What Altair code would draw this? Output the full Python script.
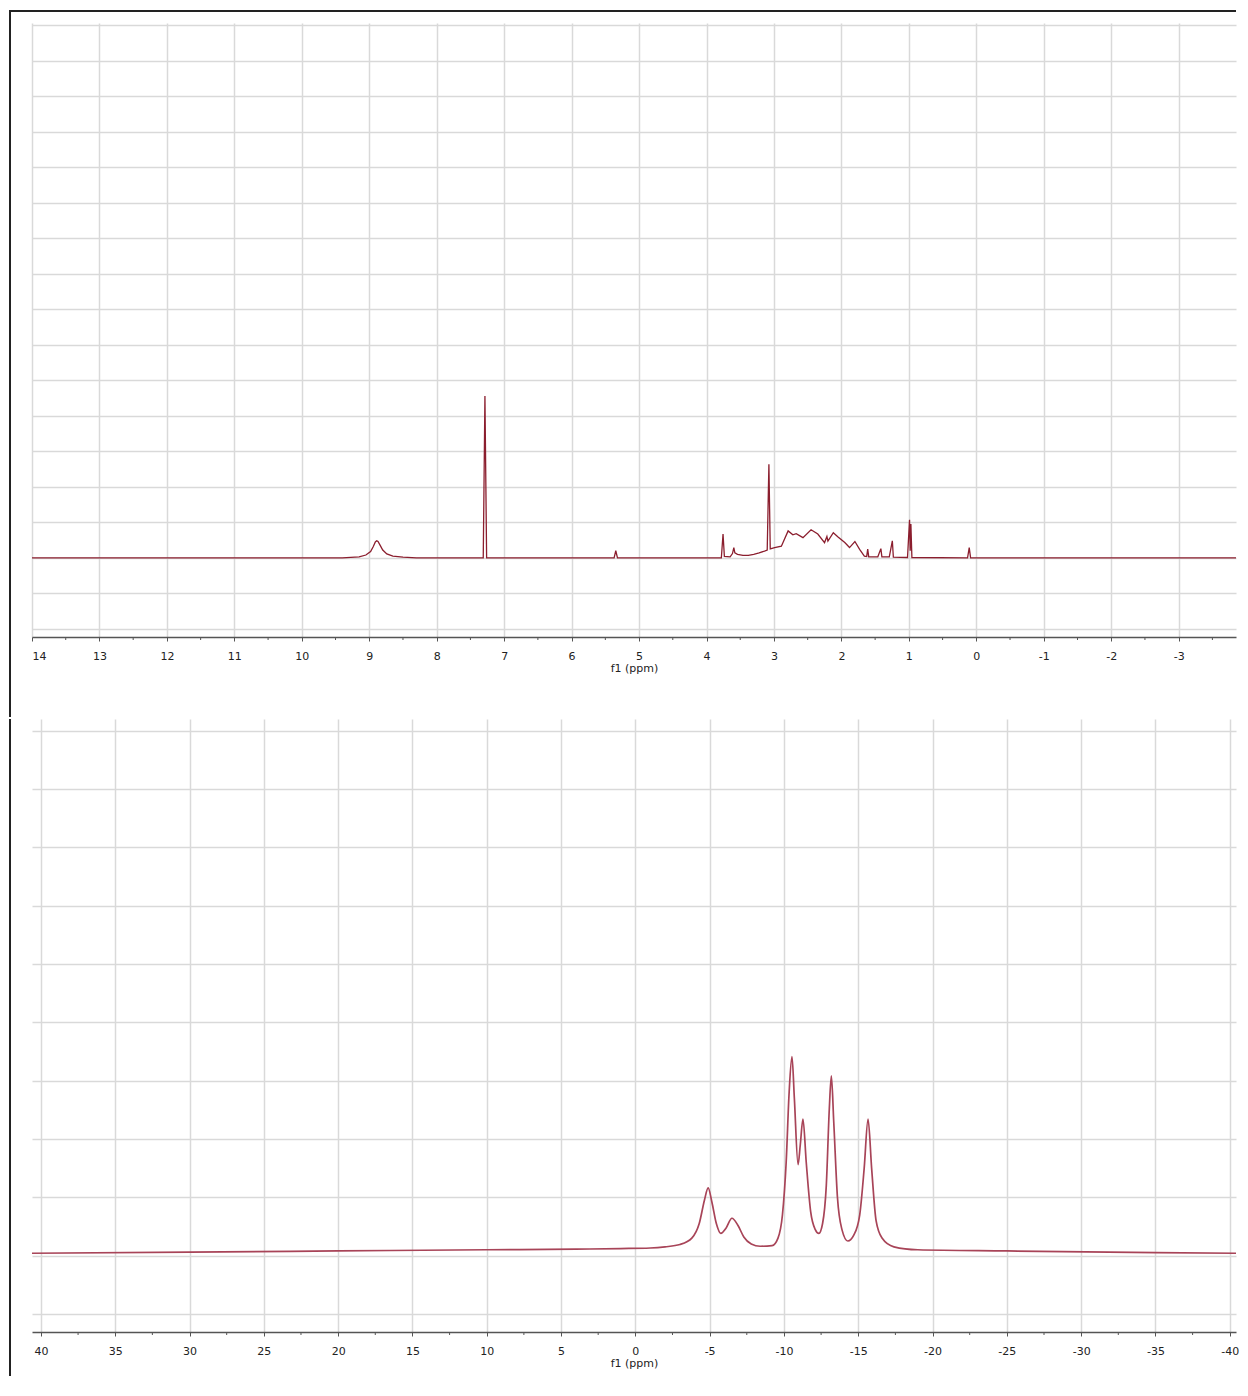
import altair as alt
import pandas as pd

# ---- 1H spectrum (top panel): ppm and intensity (grid units above baseline)
h_ppm = [14.0, 9.4, 9.15, 9.05, 8.98, 8.94, 8.91, 8.89, 8.87, 8.84, 8.80, 8.74, 8.65, 8.5, 8.3,
         7.31, 7.285, 7.26,
         5.37, 5.345, 5.32,
         3.78, 3.755, 3.735, 3.65, 3.615, 3.595, 3.58, 3.54, 3.46, 3.38, 3.30, 3.22, 3.14, 3.10,
         3.075, 3.055, 2.99, 2.89, 2.79, 2.72, 2.67, 2.57, 2.45, 2.35, 2.25, 2.215, 2.20, 2.12,
         2.05, 1.95, 1.88, 1.80, 1.73, 1.66, 1.625, 1.61, 1.595, 1.46, 1.415, 1.40, 1.29, 1.245,
         1.23, 1.02, 0.99, 0.98, 0.97, 0.955, 0.13, 0.105, 0.085, -3.85]
h_int = [0.0, 0.0, 0.03, 0.08, 0.18, 0.32, 0.45, 0.48, 0.46, 0.36, 0.22, 0.11, 0.05, 0.02, 0.0,
         0.0, 4.56, 0.0,
         0.0, 0.2, 0.0,
         0.0, 0.67, 0.04, 0.03, 0.12, 0.29, 0.14, 0.10, 0.07, 0.07, 0.10, 0.14, 0.19, 0.22,
         2.64, 0.25, 0.29, 0.33, 0.76, 0.65, 0.68, 0.57, 0.79, 0.67, 0.43, 0.60, 0.47, 0.71,
         0.59, 0.43, 0.29, 0.46, 0.24, 0.05, 0.04, 0.25, 0.03, 0.03, 0.26, 0.03, 0.03, 0.48,
         0.02, 0.01, 1.07, 0.2, 0.95, 0.01, 0.0, 0.29, 0.0, 0.0]

# ---- second spectrum (bottom panel)
p_ppm = [40.6, 30, 20, 10, 4, 1, -1, -2, -3, -3.8, -4.3, -4.65, -4.9, -5.15, -5.45, -5.75,
         -6.1, -6.5, -6.9, -7.3, -7.8, -8.4, -9.2, -9.6, -9.9, -10.15, -10.35, -10.54, -10.7,
         -10.95, -11.1, -11.28, -11.5, -11.8, -12.1, -12.35, -12.6, -12.85, -13.05, -13.19,
         -13.35, -13.6, -13.9, -14.3, -14.7, -15.1, -15.4, -15.66, -15.9, -16.2, -16.6, -17.4,
         -19, -25, -35, -40.42]
p_int = [0.04, 0.06, 0.08, 0.10, 0.11, 0.12, 0.13, 0.15, 0.19, 0.30, 0.55, 0.95, 1.16, 0.92,
         0.55, 0.38, 0.47, 0.64, 0.52, 0.32, 0.20, 0.16, 0.17, 0.30, 0.70, 1.6, 2.8, 3.41, 2.7,
         1.56, 1.9, 2.34, 1.6, 0.75, 0.45, 0.38, 0.55, 1.2, 2.5, 3.08, 2.3, 1.0, 0.45, 0.25,
         0.35, 0.70, 1.5, 2.34, 1.5, 0.6, 0.3, 0.15, 0.10, 0.08, 0.05, 0.04]

top_ticks = list(range(14, -4, -1))
top_minor = [v + 0.5 for v in range(-4, 14)]
top_grid_y = list(range(-2, 16))
bot_ticks = list(range(40, -45, -5))
bot_minor = [v + 2.5 for v in range(-40, 40, 5)]
bot_grid_y = list(range(-1, 10))

W1, H1 = 1204, 614
W2, H2 = 1204, 613
LINE1 = "#8b1e2e"
LINE2 = "#a84458"
BORDER = "#222222"
TICK = "#555555"

one = pd.DataFrame({"k": [0]})


def panel(ppm, inten, xdom, ydom, ticks, minor, grid_y, W, H, color, interp, width_line,
          border_top, border_bottom, draw_top, flush):
    xs = alt.Scale(domain=xdom, nice=False, zero=False)
    ys = alt.Scale(domain=ydom, nice=False, zero=False)
    xaxis = alt.Axis(values=ticks, title="f1 (ppm)", grid=True, labelFlush=flush,
                     labelExpr="'' + datum.value", tickSize=4, labelPadding=9,
                     titlePadding=1)
    yaxis = alt.Axis(values=grid_y, labels=False, ticks=False, domain=False,
                     title="", grid=True)
    df = pd.DataFrame({"ppm": ppm, "i": inten})
    line = alt.Chart(df).mark_line(color=color, strokeWidth=width_line, interpolate=interp).encode(
        x=alt.X("ppm:Q", scale=xs, axis=xaxis),
        y=alt.Y("i:Q", scale=ys, axis=yaxis),
    )
    mdf = pd.DataFrame({"ppm": minor})
    minor_marks = alt.Chart(mdf).mark_rule(color=TICK, strokeWidth=1).encode(
        x=alt.X("ppm:Q", scale=xs, axis=xaxis),
        y=alt.value(H),
        y2=alt.value(H + 3),
    )
    left = alt.Chart(one).mark_rule(color=BORDER, strokeWidth=2).encode(
        x=alt.value(-22), y=alt.value(border_top), y2=alt.value(border_bottom)
    )
    layers = [line, minor_marks, left]
    if draw_top:
        top = alt.Chart(one).mark_rule(color=BORDER, strokeWidth=2).encode(
            x=alt.value(-22), x2=alt.value(W), y=alt.value(border_top + 1)
        )
        layers.append(top)
    return alt.layer(*layers).properties(width=W, height=H)


top = panel(h_ppm, h_int, [14, -3.85], [-2.23, 15.07], top_ticks, top_minor, top_grid_y,
            W1, H1, LINE1, "linear", 1.3, -13, 694, True, True)
bottom = panel(p_ppm, p_int, [40.6, -40.42], [-1.31, 9.2], bot_ticks, bot_minor, bot_grid_y,
               W2, H2, LINE2, "monotone", 1.7, 0, 657, False, False)

chart = alt.vconcat(top, bottom, spacing=-6).properties(padding=0).configure_view(
    stroke="transparent"
).configure_axis(
    labelFont="DejaVu Sans", labelFontSize=11, labelColor="#222222",
    titleFont="DejaVu Sans", titleFontSize=11, titleFontWeight="normal", titleColor="#222222",
    domainColor=TICK, domainWidth=1.5, tickColor=TICK, tickWidth=1,
    gridColor="#d9d9d9", gridWidth=1.5,
)

chart.save("out.html", embed_options={"renderer": "svg", "actions": False})
